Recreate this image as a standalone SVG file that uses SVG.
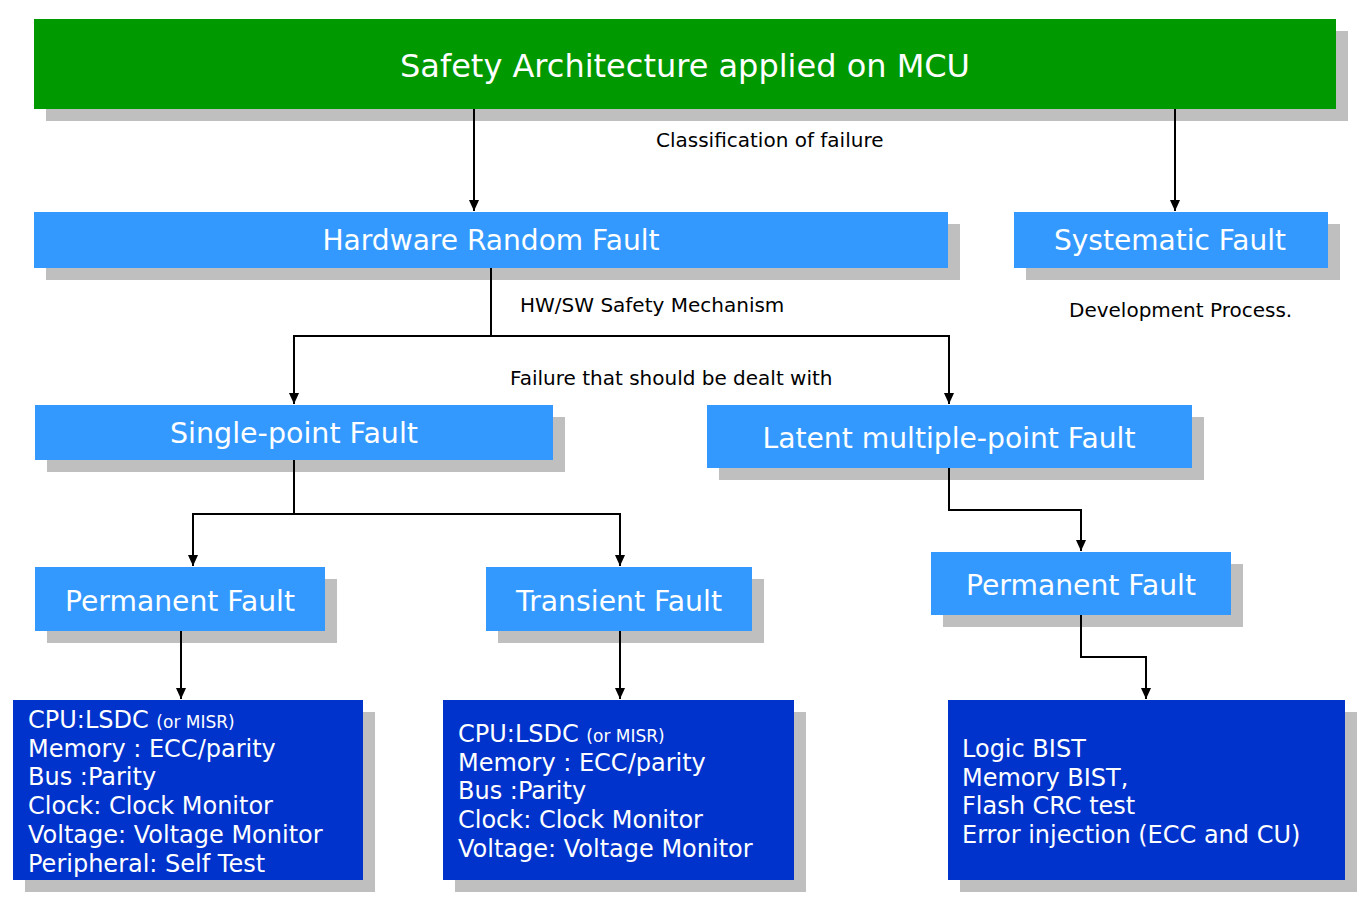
<svg xmlns="http://www.w3.org/2000/svg" width="1371" height="899" viewBox="0 0 1371 899">
<defs>
<marker id="ah" markerWidth="11" markerHeight="12" refX="12" refY="5.5" orient="auto" markerUnits="userSpaceOnUse" viewBox="0 0 12 11">
<path d="M0,0 L12,5.5 L0,11 Z" fill="#000"/>
</marker>
<style>
.sh{fill:#bfbfbf}
.g{fill:#009900}
.lb{fill:#3399ff}
.db{fill:#0033cc}
.t{font-family:"DejaVu Sans",Verdana,sans-serif;fill:#fff}
.h{font-size:28px;text-anchor:middle}
.b{font-size:24px}
.s{font-size:17px}
.lab{font-family:"DejaVu Sans",Verdana,sans-serif;font-size:20px;fill:#000}
.c{fill:none;stroke:#000;stroke-width:2}
</style>
</defs>
<rect width="1371" height="899" fill="#fff"/>
<g id="title">
<rect class="sh" x="46" y="31" width="1302" height="90"/>
<rect class="g" x="34" y="19" width="1302" height="90"/>
<text class="t" x="685" y="77" font-size="32" text-anchor="middle" textLength="570" lengthAdjust="spacingAndGlyphs">Safety Architecture applied on MCU</text>
</g>
<g id="hrf">
<rect class="sh" x="46" y="224" width="914" height="56"/>
<rect class="lb" x="34" y="212" width="914" height="56"/>
<text class="t h" x="491" y="250" textLength="337" lengthAdjust="spacingAndGlyphs">Hardware Random Fault</text>
</g>
<g id="sys">
<rect class="sh" x="1026" y="224" width="314" height="56"/>
<rect class="lb" x="1014" y="212" width="314" height="56"/>
<text class="t h" x="1170" y="250" textLength="232" lengthAdjust="spacingAndGlyphs">Systematic Fault</text>
</g>
<g id="spf">
<rect class="sh" x="47" y="417" width="518" height="55"/>
<rect class="lb" x="35" y="405" width="518" height="55"/>
<text class="t h" x="294" y="443" textLength="248" lengthAdjust="spacingAndGlyphs">Single-point Fault</text>
</g>
<g id="lmpf">
<rect class="sh" x="719" y="417" width="485" height="63"/>
<rect class="lb" x="707" y="405" width="485" height="63"/>
<text class="t h" x="949" y="448" textLength="373" lengthAdjust="spacingAndGlyphs">Latent multiple-point Fault</text>
</g>
<g id="pf1">
<rect class="sh" x="47" y="579" width="290" height="64"/>
<rect class="lb" x="35" y="567" width="290" height="64"/>
<text class="t h" x="180" y="611" textLength="230" lengthAdjust="spacingAndGlyphs">Permanent Fault</text>
</g>
<g id="tf">
<rect class="sh" x="498" y="579" width="266" height="64"/>
<rect class="lb" x="486" y="567" width="266" height="64"/>
<text class="t h" x="619" y="611" textLength="206" lengthAdjust="spacingAndGlyphs">Transient Fault</text>
</g>
<g id="pf2">
<rect class="sh" x="943" y="564" width="300" height="63"/>
<rect class="lb" x="931" y="552" width="300" height="63"/>
<text class="t h" x="1081" y="595" textLength="230" lengthAdjust="spacingAndGlyphs">Permanent Fault</text>
</g>
<g id="m1">
<rect class="sh" x="25" y="712" width="350" height="180"/>
<rect class="db" x="13" y="700" width="350" height="180"/>
<text class="t b" x="28" y="728">CPU:LSDC <tspan class="s">(or MISR)</tspan></text>
<text class="t b" x="28" y="757">Memory : ECC/parity</text>
<text class="t b" x="28" y="785">Bus :Parity</text>
<text class="t b" x="28" y="814">Clock: Clock Monitor</text>
<text class="t b" x="28" y="843">Voltage: Voltage Monitor</text>
<text class="t b" x="28" y="872">Peripheral: Self Test</text>
</g>
<g id="m2">
<rect class="sh" x="455" y="712" width="351" height="180"/>
<rect class="db" x="443" y="700" width="351" height="180"/>
<text class="t b" x="458" y="742">CPU:LSDC <tspan class="s">(or MISR)</tspan></text>
<text class="t b" x="458" y="771">Memory : ECC/parity</text>
<text class="t b" x="458" y="799">Bus :Parity</text>
<text class="t b" x="458" y="828">Clock: Clock Monitor</text>
<text class="t b" x="458" y="857">Voltage: Voltage Monitor</text>
</g>
<g id="m3">
<rect class="sh" x="960" y="712" width="397" height="180"/>
<rect class="db" x="948" y="700" width="397" height="180"/>
<text class="t b" x="962" y="757">Logic BIST</text>
<text class="t b" x="962" y="786">Memory BIST,</text>
<text class="t b" x="962" y="814">Flash CRC test</text>
<text class="t b" x="962" y="843">Error injection (ECC and CU)</text>
</g>
<g id="labels">
<text class="lab" x="656" y="147">Classification of failure</text>
<text class="lab" x="520" y="312">HW/SW Safety Mechanism</text>
<text class="lab" x="510" y="385">Failure that should be dealt with</text>
<text class="lab" x="1069" y="317">Development Process.</text>
</g>
<g id="connectors">
<path class="c" d="M474,109 V211" marker-end="url(#ah)"/>
<path class="c" d="M1175,109 V211" marker-end="url(#ah)"/>
<path class="c" d="M491,268 V336 H294 V404" marker-end="url(#ah)"/>
<path class="c" d="M491,336 H949 V404" marker-end="url(#ah)"/>
<path class="c" d="M294,460 V514 H193 V566" marker-end="url(#ah)"/>
<path class="c" d="M294,514 H620 V566" marker-end="url(#ah)"/>
<path class="c" d="M949,468 V510 H1081 V551" marker-end="url(#ah)"/>
<path class="c" d="M181,631 V699" marker-end="url(#ah)"/>
<path class="c" d="M620,631 V699" marker-end="url(#ah)"/>
<path class="c" d="M1081,615 V657 H1146 V699" marker-end="url(#ah)"/>
</g>
</svg>
